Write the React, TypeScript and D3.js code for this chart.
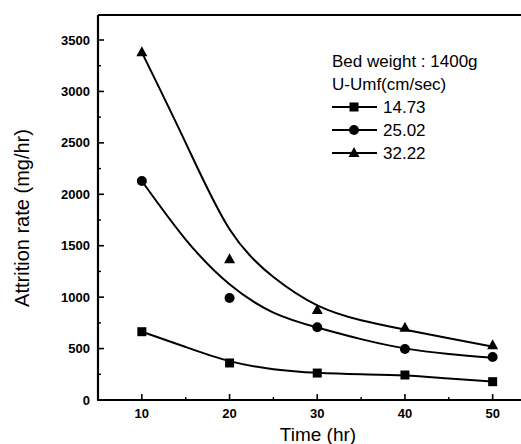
import React from "react";
import * as d3 from "d3";

const times = [10, 20, 30, 40, 50];
const s1473 = [664, 360, 262, 243, 178];
const s2502 = [2129, 992, 707, 496, 418];
const s3222 = [3380, 1368, 875, 703, 532];

// fitted curves
const fitX = [10, 15, 20, 25, 30, 35, 40, 45, 50];
const fit1473 = [664, 515, 378, 300, 265, 250, 237, 208, 180];
const fit2502 = [2129, 1560, 1125, 850, 705, 592, 502, 448, 411];
const fit3222 = [3380, 2500, 1660, 1195, 920, 775, 684, 600, 520];

const xTicks = [10, 20, 30, 40, 50];
const xMinor = [15, 25, 35, 45];
const yTicks = [0, 500, 1000, 1500, 2000, 2500, 3000, 3500];
const yMinor = [250, 750, 1250, 1750, 2250, 2750, 3250];

const legendTitle = ["Bed weight : 1400g", "U-Umf(cm/sec)"];
const legendLabels = ["14.73", "25.02", "32.22"];

const W = 521, H = 444;
const L = 98, B = 400, T = 15;

export default function App() {
  const x = d3.scaleLinear().domain([5, 55]).range([L, L + 50 * 8.77]);
  const y = d3.scaleLinear().domain([0, 3500]).range([B, 40]);
  const line = d3.line<[number, number]>().x(d => x(d[0])).y(d => y(d[1])).curve(d3.curveNatural);
  const fits = [fit1473, fit2502, fit3222].map(f => fitX.map((t, i) => [t, f[i]] as [number, number]));
  const series = [s1473, s2502, s3222];
  const marker = (k: number, cx: number, cy: number, key: string) => {
    if (k === 0) return <rect key={key} x={cx - 4.5} y={cy - 4.5} width={9} height={9} fill="#000" />;
    if (k === 1) return <circle key={key} cx={cx} cy={cy} r={5} fill="#000" />;
    return <path key={key} d={`M${cx},${cy - 6}L${cx + 5.5},${cy + 4}L${cx - 5.5},${cy + 4}Z`} fill="#000" />;
  };
  const font = "Arial, 'Liberation Sans', sans-serif";
  return (
    <svg width={W} height={H} style={{ position: "absolute", left: 0, top: 0, background: "#fff" }} fontFamily={font}>
      {/* axes */}
      <line x1={L} y1={T} x2={W} y2={T} stroke="#000" strokeWidth={2} />
      <line x1={L} y1={T} x2={L} y2={B} stroke="#000" strokeWidth={2.2} />
      <line x1={L - 1} y1={B} x2={W} y2={B} stroke="#000" strokeWidth={2.2} />
      {xTicks.map(t => (
        <g key={"xt" + t}>
          <line x1={x(t)} x2={x(t)} y1={B} y2={B - 6} stroke="#000" strokeWidth={1.6} />
          <text x={x(t)} y={418} fontSize={13} fontWeight="bold" textAnchor="middle">{t}</text>
        </g>
      ))}
      {xMinor.map(t => (
        <line key={"xm" + t} x1={x(t)} x2={x(t)} y1={B} y2={B - 3} stroke="#000" strokeWidth={1.4} />
      ))}
      {yTicks.map(t => (
        <g key={"yt" + t}>
          <line x1={L} x2={L + 6} y1={y(t)} y2={y(t)} stroke="#000" strokeWidth={1.6} />
          <text x={90} y={y(t) + 4.5} fontSize={13} fontWeight="bold" textAnchor="end">{t}</text>
        </g>
      ))}
      {yMinor.map(t => (
        <line key={"ym" + t} x1={L} x2={L + 3} y1={y(t)} y2={y(t)} stroke="#000" strokeWidth={1.4} />
      ))}
      {/* axis titles */}
      <text transform="translate(29,218) rotate(-90)" fontSize={20} textAnchor="middle">Attrition rate (mg/hr)</text>
      <text x={318} y={441} fontSize={19} textAnchor="middle">Time (hr)</text>
      {/* curves */}
      {fits.map((f, k) => (
        <path key={"fit" + k} d={line(f) || ""} fill="none" stroke="#000" strokeWidth={2} />
      ))}
      {series.map((s, k) => s.map((v, i) => marker(k, x(times[i]), y(v), `m${k}-${i}`)))}
      {/* legend */}
      {legendTitle.map((t, i) => (
        <text key={"lt" + i} x={332} y={67 + i * 23} fontSize={17}>{t}</text>
      ))}
      {legendLabels.map((t, i) => {
        const ly = 107 + i * 23;
        return (
          <g key={"ll" + i}>
            <line x1={332} x2={377} y1={ly} y2={ly} stroke="#000" strokeWidth={2} />
            {marker(i, 354, ly, "lm" + i)}
            <text x={383} y={ly + 6} fontSize={17}>{t}</text>
          </g>
        );
      })}
    </svg>
  );
}
